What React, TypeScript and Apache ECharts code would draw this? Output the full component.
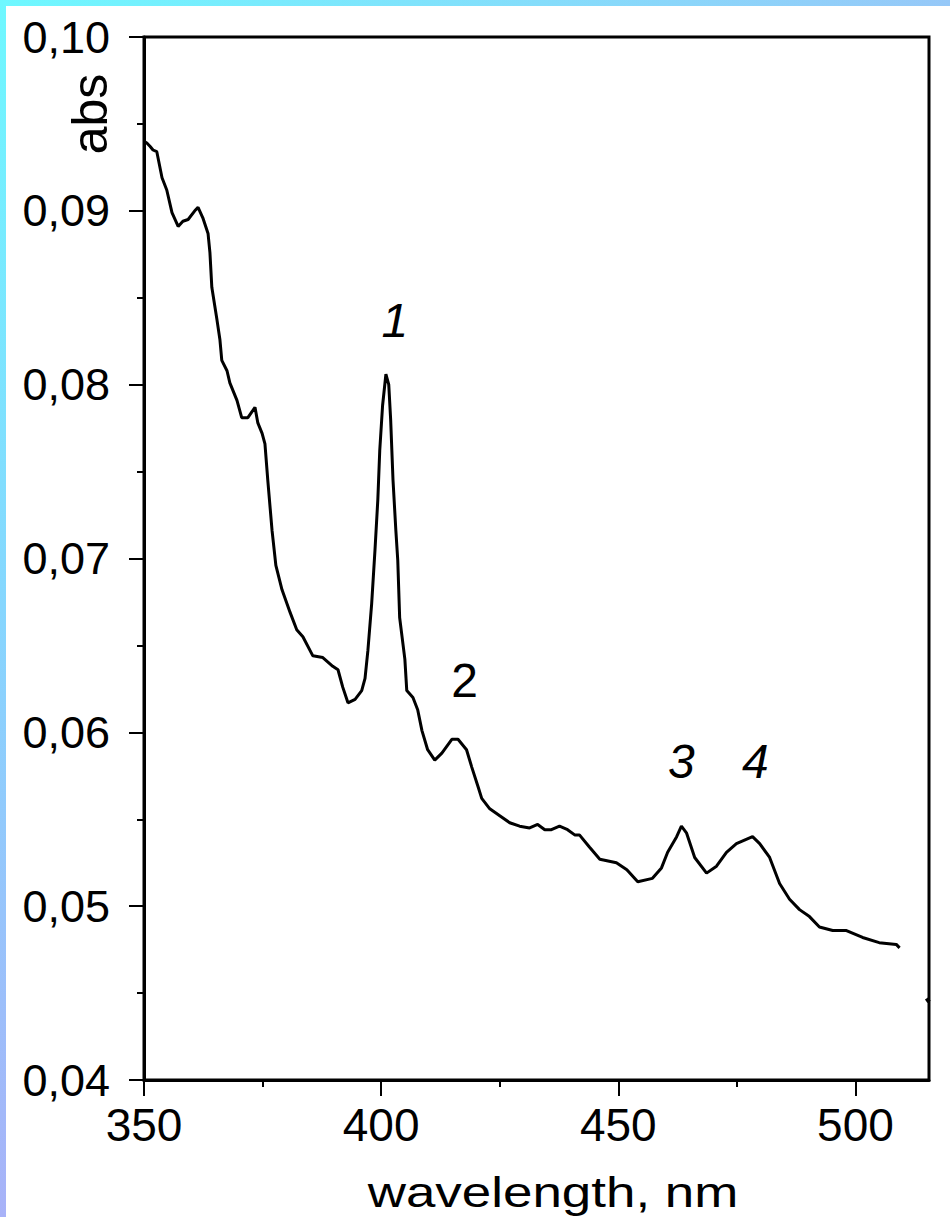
import React, { useEffect, useRef } from 'react';
import * as echarts from 'echarts';

const FONT = "'Liberation Sans', Arial, sans-serif";

// wavelength (nm) of the traced spectrum
const wavelength = [
  350.0, 350.6, 351.3, 351.9, 352.7, 353.8, 354.8, 355.9, 357.2, 358.2,
  359.3, 360.7, 361.4, 362.4, 363.5, 363.9, 364.3, 365.4, 366.0, 366.4,
  367.5, 368.1, 369.6, 370.6, 371.9, 373.4, 374.0, 374.9, 375.5, 376.1,
  377.0, 377.8, 379.1, 380.8, 382.2, 383.5, 385.6, 387.7, 389.8, 390.9,
  391.9, 393.0, 394.5, 395.9, 396.6, 397.2, 398.0, 398.7, 399.3, 399.7,
  400.3, 401.0, 401.6, 402.0, 402.5, 403.1, 403.5, 403.9, 405.0, 405.4,
  406.7, 407.7, 408.6, 409.8, 411.3, 412.8, 414.9, 416.2, 418.0, 419.1,
  420.4, 421.2, 422.9, 425.0, 427.1, 429.2, 431.3, 433.0, 434.5, 435.9,
  437.6, 439.3, 440.8, 441.8, 443.9, 446.1, 449.6, 451.8, 454.1, 457.2,
  459.1, 460.4, 462.3, 463.3, 464.4, 466.1, 468.6, 470.7, 472.8, 474.9,
  476.6, 478.3, 479.8, 481.9, 484.0, 486.1, 488.2, 490.3, 492.4, 495.2,
  498.1, 501.5, 505.0, 508.6, 509.3
];

// absorbance of the traced spectrum
const absorbance = [
  0.0940, 0.0939, 0.0937, 0.0935, 0.0934, 0.0919, 0.0912, 0.0899, 0.0891, 0.0894,
  0.0895, 0.0900, 0.0902, 0.0896, 0.0887, 0.0876, 0.0856, 0.0837, 0.0826, 0.0814,
  0.0808, 0.0801, 0.0791, 0.0781, 0.0781, 0.0787, 0.0778, 0.0772, 0.0766, 0.0745,
  0.0716, 0.0696, 0.0682, 0.0669, 0.0659, 0.0655, 0.0644, 0.0643, 0.0638, 0.0636,
  0.0626, 0.0617, 0.0619, 0.0624, 0.0631, 0.0647, 0.0674, 0.0705, 0.0734, 0.0762,
  0.0788, 0.0806, 0.0800, 0.0780, 0.0745, 0.0716, 0.0699, 0.0666, 0.0642, 0.0624,
  0.0620, 0.0613, 0.0601, 0.0590, 0.0584, 0.0588, 0.0596, 0.0596, 0.0590, 0.0580,
  0.0569, 0.0562, 0.0556, 0.0552, 0.0548, 0.0546, 0.0545, 0.0547, 0.0544, 0.0544,
  0.0546, 0.0544, 0.0541, 0.0541, 0.0534, 0.0527, 0.0525, 0.0521, 0.0514, 0.0516,
  0.0522, 0.0531, 0.0540, 0.0546, 0.0542, 0.0528, 0.0519, 0.0523, 0.0531, 0.0536,
  0.0538, 0.0540, 0.0536, 0.0528, 0.0513, 0.0504, 0.0498, 0.0494, 0.0488, 0.0486,
  0.0486, 0.0482, 0.0479, 0.0478, 0.0476
];

// small fragment of the trace at the right edge
const tailWavelength = [515.0, 515.5];
const tailAbsorbance = [0.0447, 0.0445];

// peak labels
const peakNames = ['1', '2', '3', '4'];
const peakX = [402.9, 417.6, 463.3, 478.9];
const peakY = [0.0837, 0.0630, 0.0583, 0.0583];
const peakItalic = [true, false, true, true];

const xMajorTicks = [350, 400, 450, 500];
const xMinorTicks = [375, 425, 475];
const X_MIN = 350;
const X_MAX = 515.5;

export default function App() {
  const ref = useRef<HTMLDivElement>(null);

  useEffect(() => {
    const chart = echarts.init(ref.current as HTMLDivElement, null, {
      renderer: 'svg',
      width: 950,
      height: 1217,
    });
    const black = '#000';
    chart.setOption({
      animation: false,
      textStyle: { fontFamily: FONT },
      grid: {
        left: 144,
        top: 37,
        right: 21,
        bottom: 137,
        show: true,
        borderColor: black,
        borderWidth: 3,
        backgroundColor: 'transparent',
      },
      xAxis: [
        {
          type: 'value',
          min: X_MIN,
          max: X_MAX,
          position: 'bottom',
          axisLine: { show: true, onZero: false, lineStyle: { color: black, width: 3 } },
          axisTick: {
            show: true,
            customValues: xMajorTicks,
            length: 16,
            lineStyle: { color: black, width: 2 },
          },
          axisLabel: {
            customValues: xMajorTicks,
            fontSize: 46,
            color: black,
            margin: 22,
            fontFamily: FONT,
          },
          splitLine: { show: false },
        },
        {
          type: 'value',
          min: X_MIN,
          max: X_MAX,
          position: 'bottom',
          axisLine: { show: false },
          axisTick: {
            show: true,
            customValues: xMinorTicks,
            length: 7,
            lineStyle: { color: black, width: 2 },
          },
          axisLabel: { show: false },
          splitLine: { show: false },
        },
      ],
      yAxis: {
        type: 'value',
        min: 0.04,
        max: 0.1,
        interval: 0.01,
        axisLine: { show: true, onZero: false, lineStyle: { color: black, width: 3 } },
        axisTick: { show: true, length: 15, lineStyle: { color: black, width: 2 } },
        minorTick: { show: true, splitNumber: 2, length: 7, lineStyle: { color: black, width: 2 } },
        axisLabel: {
          fontSize: 45,
          color: black,
          margin: 34,
          fontFamily: FONT,
          formatter: (v: number) => v.toFixed(2).replace('.', ','),
        },
        splitLine: { show: false },
        minorSplitLine: { show: false },
      },
      graphic: [
        {
          type: 'text',
          x: 90,
          y: 114,
          rotation: Math.PI / 2,
          style: {
            text: 'abs',
            fontSize: 50,
            fontFamily: FONT,
            fill: black,
            align: 'center',
            verticalAlign: 'middle',
          },
        },
        {
          type: 'text',
          x: 553,
          y: 1192,
          scaleX: 1.26,
          style: {
            text: 'wavelength, nm',
            fontSize: 42,
            fontFamily: FONT,
            fill: black,
            align: 'center',
            verticalAlign: 'middle',
          },
        },
      ],
      series: [
        {
          type: 'line',
          xAxisIndex: 0,
          yAxisIndex: 0,
          data: wavelength.map((w, i) => [w, absorbance[i]]),
          showSymbol: false,
          symbol: 'none',
          lineStyle: { color: black, width: 3 },
          silent: true,
        },
        {
          type: 'line',
          xAxisIndex: 0,
          yAxisIndex: 0,
          data: tailWavelength.map((w, i) => [w, tailAbsorbance[i]]),
          showSymbol: false,
          symbol: 'none',
          lineStyle: { color: black, width: 4 },
          silent: true,
        },
        {
          type: 'scatter',
          xAxisIndex: 0,
          yAxisIndex: 0,
          symbol: 'circle',
          symbolSize: 0,
          itemStyle: { color: black },
          silent: true,
          label: {
            show: true,
            position: 'inside',
            color: black,
            opacity: 1,
            textBorderWidth: 0,
            fontSize: 48,
            fontFamily: FONT,
            formatter: (p: any) => p.name,
          },
          data: peakNames.map((n, i) => ({
            name: n,
            value: [peakX[i], peakY[i]],
            label: { color: black, fontStyle: peakItalic[i] ? 'italic' : 'normal' },
          })),
        },
      ],
    });
    return () => chart.dispose();
  }, []);

  return (
    <div
      style={{
        position: 'absolute',
        left: 0,
        top: 0,
        width: 950,
        height: 1217,
        background: '#fff',
        overflow: 'hidden',
      }}
    >
      <div
        style={{
          position: 'absolute',
          left: 0,
          top: 0,
          width: 950,
          height: 6,
          background: 'linear-gradient(to right, #6ef8ff, #96c8f8)',
        }}
      />
      <div
        style={{
          position: 'absolute',
          left: 0,
          top: 0,
          width: 6,
          height: 1217,
          background: 'linear-gradient(to bottom, #6ef8ff, #86d6fe 50%, #a8b2f8)',
        }}
      />
      <div ref={ref} style={{ position: 'absolute', left: 0, top: 0, width: 950, height: 1217 }} />
    </div>
  );
}
